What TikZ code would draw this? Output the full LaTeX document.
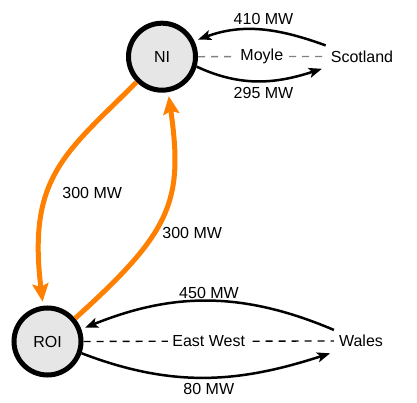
\documentclass[tikz,border=0pt]{standalone}
\usepackage{fontspec}
\setmainfont{Liberation Sans}
\usetikzlibrary{arrows.meta}
\definecolor{flow}{RGB}{255,128,0}
\definecolor{hub}{RGB}{230,230,230}
\definecolor{moylegray}{RGB}{128,128,128}
\begin{document}
\begin{tikzpicture}[x=1pt,y=1pt,
  every node/.style={font=\fontsize{16}{19}\selectfont},
  hubnode/.style={circle, draw=black, line width=5pt, fill=hub, minimum size=67pt, inner sep=0pt},
  endnode/.style={inner xsep=5pt, inner ysep=5pt},
  lbl/.style={inner sep=0pt},
  blk/.style={line width=2.5pt, -{Stealth[length=13pt,width=10pt,inset=3pt]}, shorten >=4pt},
  org/.style={draw=flow, line width=5pt, -{Stealth[length=18pt,width=16pt,inset=3pt]}, shorten >=4pt},
  link/.style={dash pattern=on 7pt off 6pt, line width=1.3pt}
]
\useasboundingbox (0,0) rectangle (417,403);
\node[hubnode] (NI) at (162,346.3) {NI};
\node[hubnode] (ROI) at (47.5,61.5) {ROI};
\node[endnode] (Sc) at (362,346.5) {Scotland};
\node[endnode] (Wa) at (361,62) {Wales};

\draw[link, draw=moylegray] (NI) -- node[fill=white, inner xsep=4pt, inner ysep=1pt] (moyle) {Moyle} (Sc);
\draw[link] (ROI) -- node[fill=white, inner xsep=4pt, inner ysep=1pt] (ew) {East West} (Wa);

\draw[blk] (Sc.north west) to[out=160, in=20] (NI.26);
\draw[blk] (NI.-16) to[out=-25, in=198] (Sc.south west);
\draw[blk] (Wa.north west) to[out=157, in=22] (ROI.20);
\draw[blk] (ROI.-19) to[out=-21, in=198] (Wa.south west);

\draw[org] (NI.225) to[out=225, in=97, out distance=100pt, in distance=130pt] (ROI.97);
\draw[org] (ROI.40) to[out=42, in=-82, out distance=130pt, in distance=110pt] (NI.-80);

\node[lbl] (l410) at (263.5,384) {410 MW};
\node[lbl] (l295) at (263.5,309.8) {295 MW};
\node[lbl] (l450) at (209,110.2) {450 MW};
\node[lbl] (l80) at (208.8,14.3) {80 MW};
\node[lbl] (l300a) at (92.2,210.5) {300 MW};
\node[lbl] (l300b) at (192.2,170.5) {300 MW};
\end{tikzpicture}
\end{document}
